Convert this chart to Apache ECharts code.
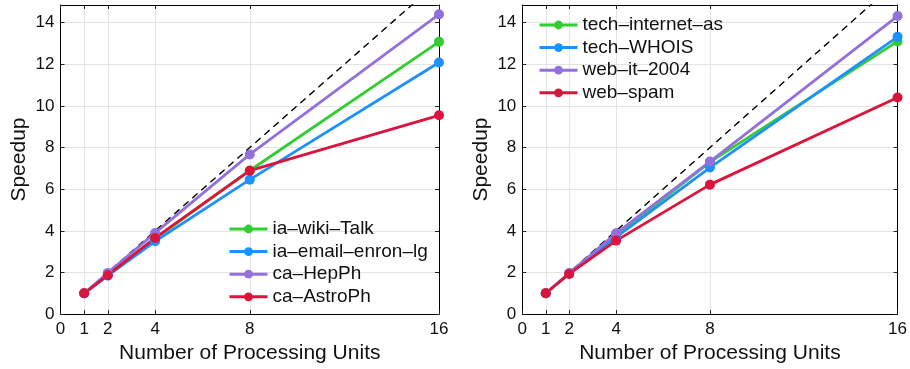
<!DOCTYPE html>
<html>
<head>
<meta charset="utf-8">
<script src="https://cdn.jsdelivr.net/npm/echarts@6/dist/echarts.min.js"></script>
<style>
  html, body { margin: 0; padding: 0; background: #fff; }
  #chart { width: 910px; height: 369px; }
</style>
</head>
<body>
<div id="chart"></div>
<script>
// processing units and axis ticks
const procs = [1, 2, 4, 8, 16]
const xTicks = [0, 1, 2, 4, 8, 16]
const yMax = 14.85

// left panel
const leftNames = ['ia–wiki–Talk', 'ia–email–enron–lg', 'ca–HepPh', 'ca–AstroPh']
const wikiTalk = [1, 1.9, 3.62, 6.9, 13.08]
const emailEnron = [1, 1.85, 3.5, 6.46, 12.09]
const hepPh = [1, 1.98, 3.9, 7.67, 14.4]
const astroPh = [1, 1.87, 3.66, 6.89, 9.55]

// right panel
const rightNames = ['tech–internet–as', 'tech–WHOIS', 'web–it–2004', 'web–spam']
const internetAs = [1, 1.95, 3.76, 7.3, 13.1]
const whois = [1, 1.95, 3.7, 7.04, 13.32]
const webIt = [1, 1.97, 3.88, 7.33, 14.32]
const webSpam = [1, 1.93, 3.53, 6.22, 10.41]

const colors = ['#32cd32', '#1e90ff', '#9370db', '#dc143c']
const font = 'Liberation Sans, Arial, Helvetica, sans-serif'

const chart = echarts.init(document.getElementById('chart'))

function xAxes(gridIndex) {
  return [
    {
      type: 'value', gridIndex: gridIndex, min: 0, max: 16, position: 'bottom',
      name: 'Number of Processing Units', nameLocation: 'middle', nameGap: 26,
      nameTextStyle: { fontSize: 21, color: '#111', fontFamily: font },
      axisLine: { onZero: false, lineStyle: { color: '#000', width: 1 } },
      axisTick: { inside: true, length: 4, customValues: xTicks, lineStyle: { color: '#222' } },
      axisLabel: { customValues: xTicks, fontSize: 17, color: '#111', fontFamily: font, margin: 7 },
      splitLine: { show: true, lineStyle: { color: '#e4e4e4', width: 1 } }
    },
    {
      type: 'value', gridIndex: gridIndex, min: 0, max: 16, position: 'top',
      axisLine: { onZero: false, lineStyle: { color: '#000', width: 1 } },
      axisTick: { inside: true, length: 4, customValues: xTicks, lineStyle: { color: '#222' } },
      axisLabel: { show: false },
      splitLine: { show: false }
    }
  ]
}

function yAxes(gridIndex) {
  return [
    {
      type: 'value', gridIndex: gridIndex, min: 0, max: yMax, interval: 2, position: 'left',
      name: 'Speedup', nameLocation: 'middle', nameGap: 31,
      nameTextStyle: { fontSize: 21, color: '#111', fontFamily: font },
      axisLine: { show: true, onZero: false, lineStyle: { color: '#000', width: 1 } },
      axisTick: { show: true, inside: true, length: 4, lineStyle: { color: '#222' } },
      axisLabel: { fontSize: 17, color: '#111', fontFamily: font, margin: 6, showMaxLabel: false },
      splitLine: { show: true, lineStyle: { color: '#e4e4e4', width: 1 } }
    },
    {
      type: 'value', gridIndex: gridIndex, min: 0, max: yMax, interval: 2, position: 'right',
      axisLine: { show: true, onZero: false, lineStyle: { color: '#000', width: 1 } },
      axisTick: { show: true, inside: true, length: 4, lineStyle: { color: '#222' } },
      axisLabel: { show: false },
      splitLine: { show: false }
    }
  ]
}

function dataSeries(name, values, color, axisIndex) {
  return {
    name: name,
    type: 'line',
    xAxisIndex: axisIndex,
    yAxisIndex: axisIndex,
    data: procs.map((p, i) => [p, values[i]]),
    symbol: 'circle',
    symbolSize: 10,
    color: color,
    lineStyle: { width: 2.8, color: color },
    itemStyle: { color: color },
    animation: false,
    z: 3
  }
}

function idealSeries(axisIndex) {
  return {
    name: 'ideal',
    type: 'line',
    xAxisIndex: axisIndex,
    yAxisIndex: axisIndex,
    data: procs.map(p => [p, p]),
    showSymbol: false,
    symbol: 'none',
    clip: true,
    lineStyle: { color: '#000', width: 1.4, type: [7, 5] },
    animation: false,
    silent: true,
    z: 2
  }
}

function legend(names, left, top) {
  return {
    data: names,
    orient: 'vertical',
    left: left,
    top: top,
    itemWidth: 38,
    itemHeight: 11,
    itemGap: 0.6,
    padding: 0,
    lineStyle: { width: 3 },
    textStyle: { fontSize: 19, color: '#111', fontFamily: font, lineHeight: 22 },
    selectedMode: false
  }
}

chart.setOption({
  animation: false,
  grid: [
    { left: 60.5, right: 471, top: 5, bottom: 52.3 },
    { left: 522.3, right: 9.3, top: 5, bottom: 52.3 }
  ],
  xAxis: xAxes(0).concat(xAxes(1)),
  yAxis: yAxes(0).concat(yAxes(1)),
  legend: [legend(leftNames, 228, 218), legend(rightNames, 538, 14)],
  series: [
    idealSeries(0),
    dataSeries(leftNames[0], wikiTalk, colors[0], 0),
    dataSeries(leftNames[1], emailEnron, colors[1], 0),
    dataSeries(leftNames[2], hepPh, colors[2], 0),
    dataSeries(leftNames[3], astroPh, colors[3], 0),
    idealSeries(2),
    dataSeries(rightNames[0], internetAs, colors[0], 2),
    dataSeries(rightNames[1], whois, colors[1], 2),
    dataSeries(rightNames[2], webIt, colors[2], 2),
    dataSeries(rightNames[3], webSpam, colors[3], 2)
  ]
})
</script>
</body>
</html>
